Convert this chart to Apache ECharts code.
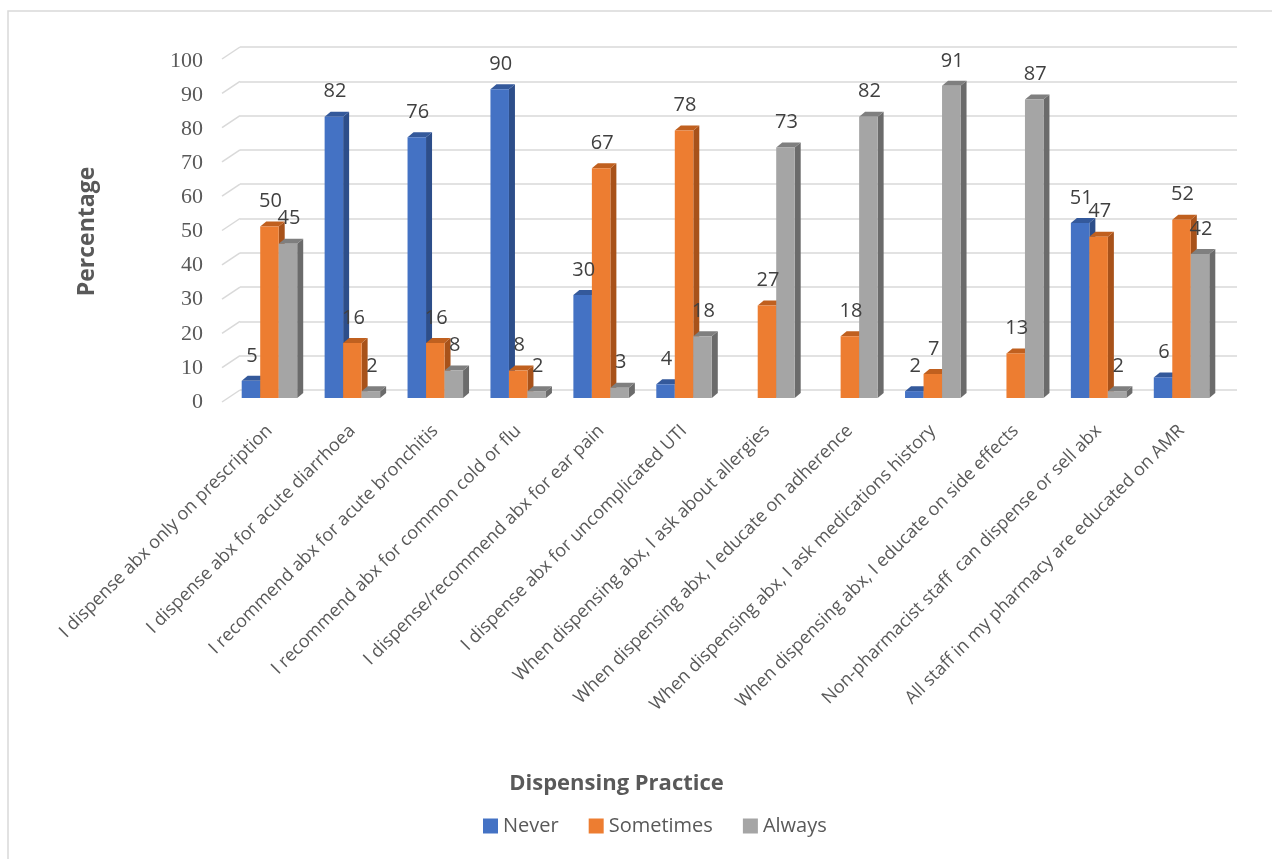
<!DOCTYPE html>
<html>
<head>
<meta charset="utf-8">
<script src="https://cdn.jsdelivr.net/npm/echarts@6/dist/echarts.min.js"></script>
<style>
  html, body { margin: 0; padding: 0; background: #fff; }
  #chart { width: 1284px; height: 859px; }
</style>
</head>
<body>
<div id="chart"></div>
<script>
  // data
  const categories = [
    "I dispense abx only on prescription",
    "I dispense abx for acute diarrhoea",
    "I recommend abx for acute bronchitis",
    "I recommend abx for common cold or flu",
    "I dispense/recommend abx for ear pain",
    "I dispense abx for uncomplicated UTI",
    "When dispensing abx, I ask about allergies",
    "When dispensing abx, I educate on adherence",
    "When dispensing abx, I ask medications history",
    "When dispensing abx, I educate on side effects",
    "Non-pharmacist staff  can dispense or sell abx",
    "All staff in my pharmacy are educated on AMR"
  ];
  const neverVals = [5, 82, 76, 90, 30, 4, null, null, 2, null, 51, 6];
  const sometimesVals = [50, 16, 16, 8, 67, 78, 27, 18, 7, 13, 47, 52];
  const alwaysVals = [45, 2, 8, 2, 3, 18, 73, 82, 91, 87, 2, 42];
  const yTicks = [0, 10, 20, 30, 40, 50, 60, 70, 80, 90, 100];

  const chart = echarts.init(document.getElementById("chart"));

  // faux 3D column: front, top and right side
  function bar3d(slot, faces) {
    return function (params, api) {
      const cat = api.value(0);
      const val = api.value(1);
      const top = api.coord([cat, val]);
      const base = api.coord([cat, 0]);
      const bw = 18.5, dx = 6, dy = 5;
      const xl = top[0] - 1.5 * bw + slot * bw;
      const xr = xl + bw;
      const yt = top[1], yb = base[1];
      return {
        type: "group",
        children: [
          { type: "polygon", shape: { points: [[xr, yt], [xr + dx, yt - dy], [xr + dx, yb - dy], [xr, yb]] }, style: { fill: faces.side } },
          { type: "polygon", shape: { points: [[xl, yt], [xl + dx, yt - dy], [xr + dx, yt - dy], [xr, yt]] }, style: { fill: faces.top } },
          { type: "rect", shape: { x: xl, y: yt, width: bw, height: yb - yt }, style: { fill: faces.front } },
          {
            type: "text", z2: 50,
            style: {
              x: (xl + xr) / 2 + 1, y: yt - 25, text: String(val),
              align: "center", verticalAlign: "middle",
              font: '20px "Open Sans"', fill: "#404040"
            }
          }
        ]
      };
    };
  }

  function toData(vals) {
    const out = [];
    vals.forEach((v, i) => { if (v !== null) out.push([i, v]); });
    return out;
  }

  const option = {
    animation: false,
    backgroundColor: "#fff",
    graphic: [
      { type: "polyline", shape: { points: [[8, 900], [8, 11], [1272, 11]] }, style: { stroke: "#d9d9d9", lineWidth: 1.5, fill: null } }
    ],
    legend: {
      data: ["Never", "Sometimes", "Always"],
      bottom: 18, left: 478,
      icon: "rect", itemWidth: 15, itemHeight: 15, itemGap: 30,
      textStyle: { fontFamily: "Open Sans", fontSize: 20, color: "#595959" }
    },
    grid: [
      // back wall (gridlines)
      { left: 240, right: 47, top: 47, bottom: 469 },
      // front (columns)
      { left: 228, right: 61, top: 55, bottom: 461 },
      // value tick labels sit a little lower than the columns' front
      { left: 228, right: 61, top: 61, bottom: 457 }
    ],
    xAxis: [
      { gridIndex: 0, type: "category", data: categories, show: false },
      {
        gridIndex: 1, type: "category", data: categories,
        name: "Dispensing Practice", nameLocation: "middle", nameGap: 375,
        nameTextStyle: { fontFamily: "Open Sans", fontWeight: "bold", fontSize: 22, color: "#595959", padding: [0, 218, 0, 0] },
        axisLine: { show: false }, axisTick: { show: false },
        axisLabel: {
          rotate: 45, interval: 0, margin: 30,
          fontFamily: "Open Sans", fontSize: 18, color: "#595959"
        }
      },
      { gridIndex: 2, type: "category", data: categories, show: false }
    ],
    yAxis: [
      {
        gridIndex: 0, type: "value", min: 0, max: 100, interval: 10,
        axisLabel: { show: false }, axisLine: { show: false }, axisTick: { show: false },
        splitLine: { lineStyle: { color: "#d9d9d9", width: 1.5 } }
      },
      {
        gridIndex: 1, type: "value", min: 0, max: 100, interval: 10,
        axisLabel: { show: false }, axisLine: { show: false }, axisTick: { show: false }, splitLine: { show: false }
      },
      {
        gridIndex: 2, type: "value", min: 0, max: 100, interval: 10,
        name: "Percentage", nameLocation: "middle", nameGap: 129, nameRotate: 90,
        nameTextStyle: { fontFamily: "Open Sans", fontWeight: "bold", fontSize: 23, color: "#595959" },
        axisLine: { show: false }, axisTick: { show: false }, splitLine: { show: false },
        axisLabel: { margin: 25, fontFamily: "Liberation Serif", fontSize: 22, color: "#595959" }
      }
    ],
    series: [
      {
        // slanted left-wall segments of the gridlines
        type: "custom", xAxisIndex: 0, yAxisIndex: 0, silent: true,
        data: yTicks.map(v => [0, v]),
        renderItem: function (params, api) {
          const y = api.coord([0, api.value(1)])[1];
          const x0 = params.coordSys.x;
          return {
            type: "line",
            shape: { x1: x0 - 18, y1: y + 12, x2: x0, y2: y },
            style: { stroke: "#d9d9d9", lineWidth: 1.5 }
          };
        }
      },
      {
        name: "Never", type: "custom", xAxisIndex: 1, yAxisIndex: 1,
        itemStyle: { color: "#4472C4" },
        data: toData(neverVals),
        renderItem: bar3d(0, { front: "#4472C4", top: "#34599b", side: "#2d4e8a" })
      },
      {
        name: "Sometimes", type: "custom", xAxisIndex: 1, yAxisIndex: 1,
        itemStyle: { color: "#ED7D31" },
        data: toData(sometimesVals),
        renderItem: bar3d(1, { front: "#ED7D31", top: "#c0601f", side: "#a8521a" })
      },
      {
        name: "Always", type: "custom", xAxisIndex: 1, yAxisIndex: 1,
        itemStyle: { color: "#A5A5A5" },
        data: toData(alwaysVals),
        renderItem: bar3d(2, { front: "#A5A5A5", top: "#7f7f7f", side: "#6b6b6b" })
      }
    ]
  };

  chart.setOption(option);
</script>
</body>
</html>
